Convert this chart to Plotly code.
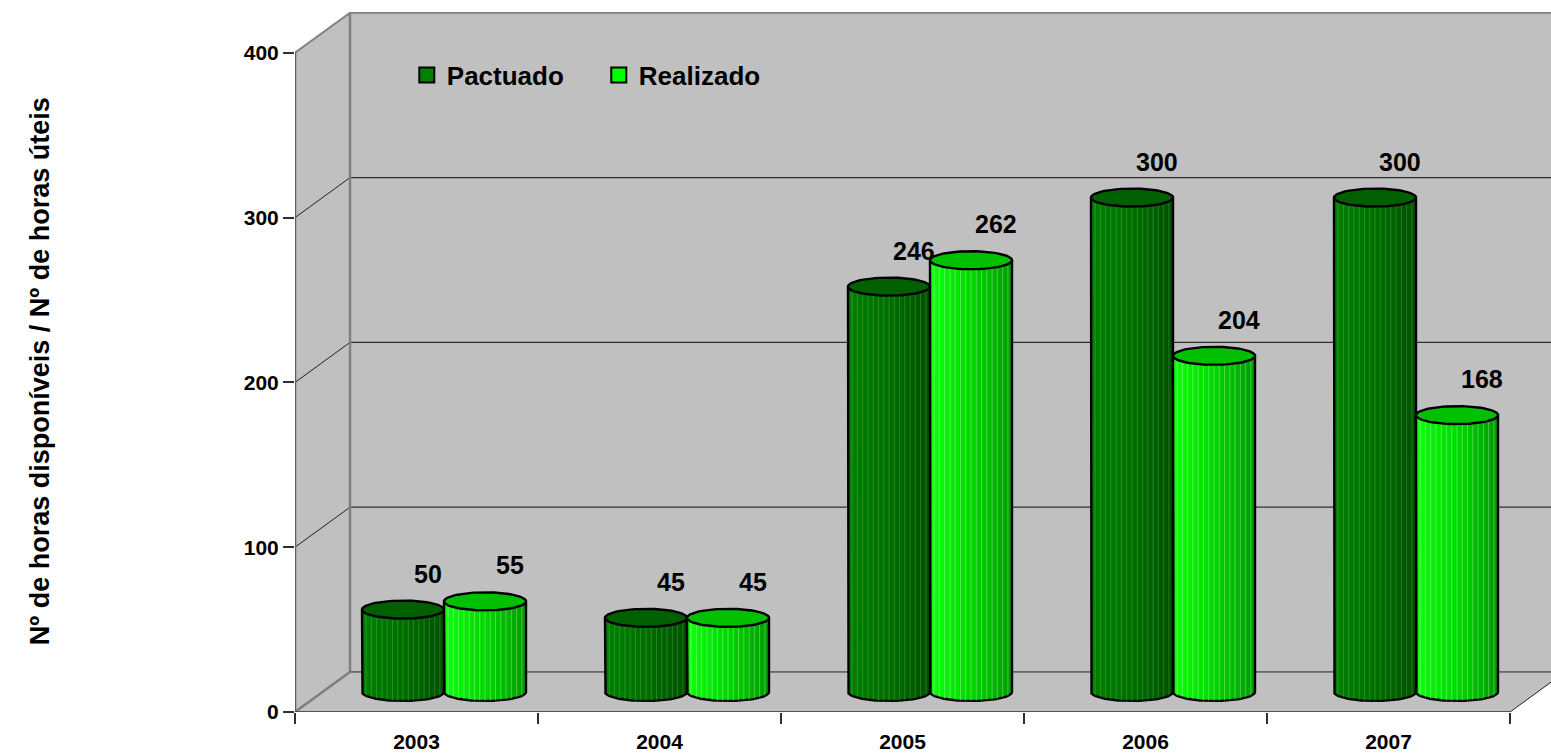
import numpy as np
import plotly.graph_objects as go

# ---------------- data ----------------
years = ["2003", "2004", "2005", "2006", "2007"]
pactuado = [50, 45, 246, 300, 300]
realizado = [55, 45, 262, 204, 168]
series_names = ["Pactuado", "Realizado"]
y_ticks = [0, 100, 200, 300, 400]
y_title = "Nº de horas disponíveis / Nº de horas úteis"

# ---------------- styling / geometry ----------------
FONT = "Arial, Liberation Sans, sans-serif"
PX_PER_CAT = 243.0
PX_PER_UNIT = 1.648
DX = 55 / PX_PER_CAT           # depth offset (x, category units)
DY = 40 / PX_PER_UNIT          # depth offset (y, value units)
BAR_W = 82 / PX_PER_CAT
ELL_B = 9 / PX_PER_UNIT
WALL = "#C0C0C0"
EDGE = "#808080"

body_scales = [
    [[0, "#008000"], [0.5, "#006E00"], [1, "#005000"]],
    [[0, "#10FF10"], [0.5, "#00D800"], [1, "#009A00"]],
]
top_colors = ["#006000", "#00C000"]
legend_colors = ["#008000", "#00FF00"]
stripe_colors = ["rgba(160,255,160,0.22)", "rgba(220,255,220,0.35)"]

ncat = len(years)
x_max = 1256 / PX_PER_CAT
y_max = 700 / PX_PER_UNIT
ymax_tick = max(y_ticks)

fig = go.Figure()
shapes = []

def line_shape(x0, y0, x1, y1, color, width, layer="below"):
    return dict(type="line", xref="x", yref="y", x0=x0, y0=y0, x1=x1, y1=y1,
                line=dict(color=color, width=width), layer=layer)

# back wall
shapes.append(dict(type="rect", xref="x", yref="y", x0=DX, y0=DY, x1=ncat + DX + 1, y1=ymax_tick + DY,
                   fillcolor=WALL, line=dict(color=EDGE, width=2), layer="below"))
# left wall
shapes.append(dict(type="path", xref="x", yref="y",
                   path=f"M 0,0 L 0,{ymax_tick} L {DX},{ymax_tick + DY} L {DX},{DY} Z",
                   fillcolor=WALL, line=dict(color=EDGE, width=2), layer="below"))
# floor
shapes.append(dict(type="path", xref="x", yref="y",
                   path=f"M 0,0 L {ncat},0 L {ncat + DX},{DY} L {DX},{DY} Z",
                   fillcolor=WALL, line=dict(width=0), layer="below"))
# gridlines on back and left wall
for v in y_ticks[1:-1]:
    shapes.append(line_shape(DX, v + DY, ncat + DX + 1, v + DY, "#303030", 1.3))
    shapes.append(line_shape(0, v, DX, v + DY, "#202020", 1))
# edges
shapes.append(line_shape(DX, DY, DX, ymax_tick + DY, EDGE, 2.5))
shapes.append(line_shape(DX, DY, ncat + DX + 1, DY, "#606060", 1.5))
shapes.append(line_shape(0, 0, DX, DY, EDGE, 2.5))
shapes.append(line_shape(0, 0, 0, ymax_tick, "#606060", 2.5))
shapes.append(line_shape(0, 0, ncat, 0, "#303030", 1.5))
shapes.append(line_shape(ncat, 0, ncat + DX, DY, "#202020", 1))

# ---------------- cylinders ----------------
base = DY / 2
a = BAR_W / 2
annotations = []
for i in range(ncat):
    for s, vals in enumerate([pactuado, realizado]):
        v = vals[i]
        xc = i + 0.5 + DX / 2 + (s - 0.5) * BAR_W
        top = base + v
        t = np.linspace(np.pi, 2 * np.pi, 60)
        bx = list(xc + a * np.cos(t))
        by = list(base + ELL_B * np.sin(t))
        px = [xc - a] + bx + [xc + a, xc - a]
        py = [top] + by + [top, top]
        fig.add_trace(go.Scatter(
            x=px, y=py, mode="lines", fill="toself",
            fillgradient=dict(type="horizontal", colorscale=body_scales[s]),
            line=dict(color="black", width=2.4), showlegend=False, hoverinfo="skip"))
        # stripes
        sx, sy = [], []
        for f in np.linspace(-0.9, 0.9, 15):
            xs = xc + a * f
            yb = base - ELL_B * np.sqrt(1 - f * f)
            sx += [xs, xs, None]
            sy += [yb, top, None]
        fig.add_trace(go.Scatter(x=sx, y=sy, mode="lines",
                                 line=dict(color=stripe_colors[s], width=1),
                                 showlegend=False, hoverinfo="skip"))
        # top ellipse
        t2 = np.linspace(0, 2 * np.pi, 80)
        fig.add_trace(go.Scatter(
            x=xc + a * np.cos(t2), y=top + ELL_B * np.sin(t2), mode="lines", fill="toself",
            fillcolor=top_colors[s], line=dict(color="black", width=2.4),
            showlegend=False, hoverinfo="skip"))
        annotations.append(dict(x=xc, y=v + DY, xref="x", yref="y", text=f"<b>{v}</b>",
                                showarrow=False, xshift=25, yshift=16,
                                font=dict(family=FONT, size=25, color="black")))

# legend entries
for s in range(2):
    fig.add_trace(go.Scatter(x=[None], y=[None], mode="markers", name=f"<b>{series_names[s]}</b>",
                             marker=dict(symbol="square", size=15, color=legend_colors[s],
                                         line=dict(color="black", width=2))))

annotations.append(dict(x=-0.203, y=0.487, xref="paper", yref="paper", text=f"<b>{y_title}</b>",
                        textangle=-90, showarrow=False, xanchor="center", yanchor="middle",
                        font=dict(family=FONT, size=27, color="black")))

fig.update_layout(
    width=1551, height=753,
    margin=dict(l=295, r=0, t=12, b=41),
    paper_bgcolor="white", plot_bgcolor="white",
    shapes=shapes, annotations=annotations,
    showlegend=True,
    legend=dict(orientation="h", x=0.089, y=0.91, xanchor="left", yanchor="middle",
                bgcolor="rgba(0,0,0,0)", font=dict(family=FONT, size=26, color="black"),
                itemwidth=30, entrywidth=147, entrywidthmode="pixels"),
    xaxis=dict(range=[0, x_max], showgrid=False, zeroline=False, showline=False, automargin=False,
               tickmode="array", tickvals=[i + 0.5 for i in range(ncat)],
               ticktext=[f"<b>{y}</b>" for y in years],
               ticks="outside", ticklen=11, tickcolor="rgba(0,0,0,0)",
               tickfont=dict(family=FONT, size=21, color="black"),
               minor=dict(tickmode="array", tickvals=list(range(ncat + 1)), ticks="outside",
                          ticklen=11, tickcolor="#303030", tickwidth=1.5)),
    yaxis=dict(range=[0, y_max], showgrid=False, zeroline=False, showline=False, automargin=False,
               tickmode="array", tickvals=y_ticks, ticktext=[f"<b>{v}</b>" for v in y_ticks],
               ticks="outside", ticklen=11, tickcolor="#303030", tickwidth=1.5,
               tickfont=dict(family=FONT, size=21, color="black")),
)

fig.write_html("out.html", config={"responsive": False, "displayModeBar": False},
               post_script="document.body.style.margin='0';document.body.style.overflow='hidden';")
